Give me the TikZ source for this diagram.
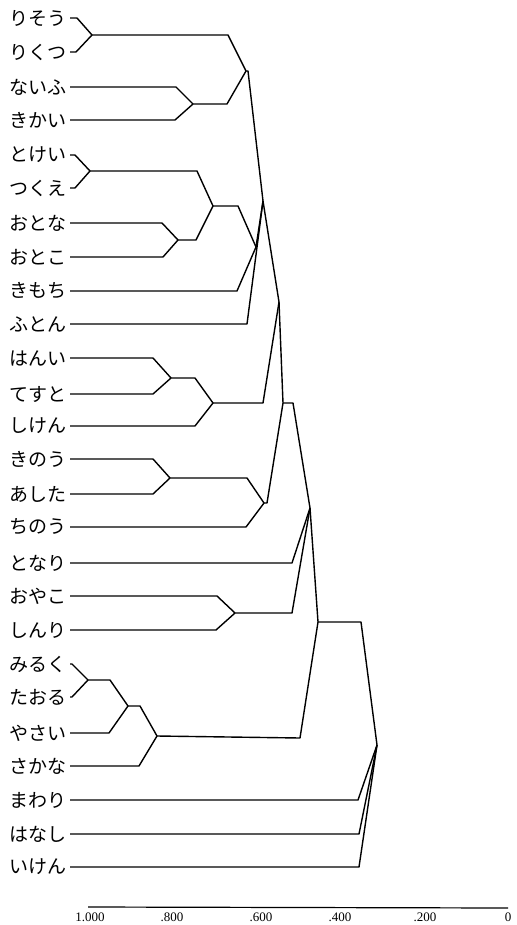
\documentclass[tikz,border=0pt]{standalone}
\usepackage{fontspec}
\newfontfamily\jp{Noto Sans CJK JP}
\setmainfont{Liberation Serif}
\begin{document}
\begin{tikzpicture}[x=0.5pt,y=-0.5pt,
  line width=0.7pt, line join=round,
  leaf/.style={anchor=east, inner xsep=1.5pt, inner ysep=0pt, font=\jp\fontsize{9.5}{10}\selectfont},
  axlabel/.style={inner sep=0pt, font=\fontsize{6.5}{7}\selectfont},
  link/.style={draw, line width=0.7pt}]
\useasboundingbox (0,0) rectangle (516,925);

% leaves
\node[leaf] (l1)  at (70,18)  {りそう};
\node[leaf] (l2)  at (70,52)  {りくつ};
\node[leaf] (l3)  at (70,87)  {ないふ};
\node[leaf] (l4)  at (70,120) {きかい};
\node[leaf] (l5)  at (70,155) {とけい};
\node[leaf] (l6)  at (70,188) {つくえ};
\node[leaf] (l7)  at (70,223) {おとな};
\node[leaf] (l8)  at (70,257) {おとこ};
\node[leaf] (l9)  at (70,291) {きもち};
\node[leaf] (l10) at (70,324) {ふとん};
\node[leaf] (l11) at (70,358) {はんい};
\node[leaf] (l12) at (70,394) {てすと};
\node[leaf] (l13) at (70,426) {しけん};
\node[leaf] (l14) at (70,459) {きのう};
\node[leaf] (l15) at (70,494) {あした};
\node[leaf] (l16) at (70,527) {ちのう};
\node[leaf] (l17) at (70,563) {となり};
\node[leaf] (l18) at (70,596) {おやこ};
\node[leaf] (l19) at (70,630) {しんり};
\node[leaf] (l20) at (70,664) {みるく};
\node[leaf] (l21) at (70,697) {たおる};
\node[leaf] (l22) at (70,733) {やさい};
\node[leaf] (l23) at (70,766) {さかな};
\node[leaf] (l24) at (70,800) {まわり};
\node[leaf] (l25) at (70,834) {はなし};
\node[leaf] (l26) at (70,867) {いけん};

% joints
\coordinate (jA)   at (92,35);
\coordinate (jB)   at (193,104);
\coordinate (jAB)  at (246,71);
\coordinate (jC)   at (90,171);
\coordinate (jD)   at (178,240);
\coordinate (jCD)  at (213,206);
\coordinate (jCDE) at (256,247);
\coordinate (jF)   at (263,201);
\coordinate (jG1)  at (171,378);
\coordinate (jG)   at (213,403);
\coordinate (jH)   at (279,302);
\coordinate (jJ1)  at (170,478);
\coordinate (jJ)   at (264,503);
\coordinate (jI)   at (283,403);
\coordinate (jL)   at (235,613);
\coordinate (jK)   at (310,508);
\coordinate (jN1)  at (88,680);
\coordinate (jN2)  at (128,706);
\coordinate (jN)   at (157,736);
\coordinate (jM)   at (318,622);
\coordinate (jO)   at (377,745);

% links
\draw[link] (l1.east) -- (77,18) -- (jA);
\draw[link] (l2.east) -- (76,52) -- (jA);
\draw[link] (l3.east) -- (176,87) -- (jB);
\draw[link] (l4.east) -- (175,120) -- (jB);
\draw[link] (jA) -- (228,35) -- (jAB);
\draw[link] (jB) -- (227,104) -- (jAB);

\draw[link] (l5.east) -- (75,155) -- (jC);
\draw[link] (l6.east) -- (75,188) -- (jC);
\draw[link] (l7.east) -- (162,223) -- (jD);
\draw[link] (l8.east) -- (163,257) -- (jD);
\draw[link] (jC) -- (197,171) -- (jCD);
\draw[link] (jD) -- (196,240) -- (jCD);
\draw[link] (jCD) -- (238,206) -- (jCDE);
\draw[link] (l9.east) -- (237,291) -- (jCDE);

\draw[link] (jAB) -- (248,71) -- (jF);
\draw[link] (jCDE) -- (jF);
\draw[link] (l10.east) -- (247,324) -- (jF);

\draw[link] (l11.east) -- (153,358) -- (jG1);
\draw[link] (l12.east) -- (153,394) -- (jG1);
\draw[link] (jG1) -- (195,378) -- (jG);
\draw[link] (l13.east) -- (195,426) -- (jG);

\draw[link] (jF) -- (jH);
\draw[link] (jG) -- (263,403) -- (jH);

\draw[link] (l14.east) -- (153,459) -- (jJ1);
\draw[link] (l15.east) -- (153,494) -- (jJ1);
\draw[link] (jJ1) -- (247,478) -- (jJ);
\draw[link] (l16.east) -- (246,527) -- (jJ);

\draw[link] (jH) -- (jI);
\draw[link] (jJ) -- (267,503) -- (jI);

\draw[link] (l18.east) -- (217,596) -- (jL);
\draw[link] (l19.east) -- (216,630) -- (jL);

\draw[link] (jI) -- (293,403) -- (jK);
\draw[link] (l17.east) -- (292,563) -- (jK);
\draw[link] (jL) -- (292,613) -- (jK);

\draw[link] (l20.east) -- (72,664) -- (jN1);
\draw[link] (l21.east) -- (72,697) -- (jN1);
\draw[link] (jN1) -- (110,680) -- (jN2);
\draw[link] (l22.east) -- (109,733) -- (jN2);
\draw[link] (jN2) -- (140,706) -- (jN);
\draw[link] (l23.east) -- (139,766) -- (jN);

\draw[link] (jK) -- (jM);
\draw[link] (jN) -- (300,738) -- (jM);

\draw[link] (jM) -- (361,622) -- (jO);
\draw[link] (l24.east) -- (358,800) -- (jO);
\draw[link] (l25.east) -- (359,834) -- (jO);
\draw[link] (l26.east) -- (359,867) -- (jO);

% axis
\coordinate (ax0) at (88,907);
\coordinate (ax1) at (508,908);
\draw[line width=0.6pt] (ax0) -- (ax1);
\node[axlabel] (t1) at (90,917)  {1.000};
\node[axlabel] (t2) at (172,917) {.800};
\node[axlabel] (t3) at (261,917) {.600};
\node[axlabel] (t4) at (340,917) {.400};
\node[axlabel] (t5) at (425,917) {.200};
\node[axlabel] (t6) at (508,917) {0};
\end{tikzpicture}
\end{document}
